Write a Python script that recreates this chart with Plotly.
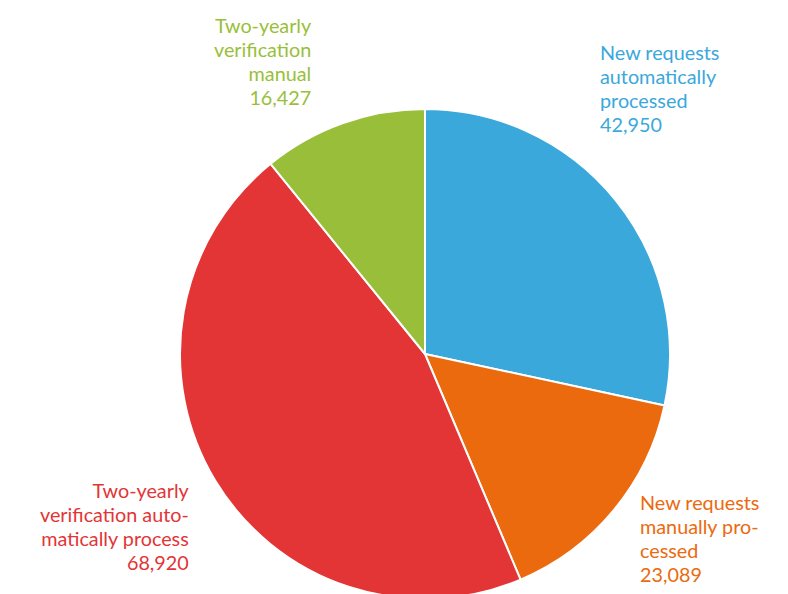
import plotly.graph_objects as go

labels = ["New requests automatically processed", "New requests manually processed",
          "Two-yearly verification automatically process", "Two-yearly verification manual"]
values = [42950, 23089, 68920, 16427]
colors = ["#3AA8DB", "#EB6A0E", "#E33535", "#99BF3A"]
label_lines = [
    ["New requests", "automatically", "processed", "42,950"],
    ["New requests", "manually pro-", "cessed", "23,089"],
    ["Two-yearly", "verification auto-", "matically process", "68,920"],
    ["Two-yearly", "verification", "manual", "16,427"],
]

W, H = 780, 594
OFF = 8  # page body margin
cx, cy, r = 425 - OFF, 354 - OFF, 245

fig = go.Figure(go.Pie(
    labels=labels, values=values, sort=False, direction="clockwise", rotation=0,
    marker=dict(colors=colors, line=dict(color="white", width=2)),
    textinfo="none", hoverinfo="label+value", showlegend=False,
    domain=dict(x=[(cx - r) / W, (cx + r) / W], y=[(H - cy - r) / H, (H - cy + r) / H]),
))

# label anchor: x (page px), block centre y (page px), alignment
pos = [(599, 88, "left"), (639, 538, "left"), (191, 526, "right"), (313, 61, "right")]
annos = []
for (px, py, al), lines, c in zip(pos, label_lines, colors):
    txt = "<br>".join('<span style="font-size:19.8px">%s</span>' % t for t in lines)
    annos.append(dict(
        x=(px - OFF) / W, y=1 - (py - OFF) / H, xref="paper", yref="paper",
        text=txt, showarrow=False, xanchor=al, yanchor="middle", align=al,
        borderpad=0, font=dict(family="Lato", size=18.5, color=c),
    ))

fig.update_layout(
    width=W, height=H, margin=dict(l=0, r=0, t=0, b=0),
    paper_bgcolor="white", plot_bgcolor="white", annotations=annos,
)
fig.write_html("out.html")
